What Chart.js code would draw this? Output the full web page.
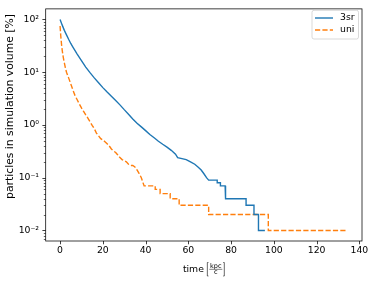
<!DOCTYPE html>
<html><head><meta charset="utf-8">
<script src="https://cdn.jsdelivr.net/npm/chart.js@4"></script>
<style>html,body{margin:0;padding:0;background:#fff;}#wrap{width:374px;height:281px;}</style>
</head><body><div id="wrap"><canvas id="c" width="374" height="281"></canvas></div>
<script>
const seriesNames = ['3sr', 'uni'];
const t3sr = [0,1,2,3,4,5,6,8,10,12,14,16,18,20,22,24,26,28,30,32,34,36,38,40,42,44,46,48,50,52,54,55,57,59,61,63,64.5,66,67.2,68.5,69.5,73.5,73.5,75,75,77.2,77.4,87,87,90.7,90.7,92.8,92.8,95.8];
const p3sr = [100,78,62,51,42,35,30,22,16.5,12.5,9.8,7.8,6.3,5.1,4.2,3.5,2.9,2.4,1.95,1.6,1.3,1.08,0.92,0.78,0.66,0.57,0.49,0.43,0.38,0.33,0.28,0.24,0.23,0.22,0.2,0.18,0.16,0.14,0.12,0.1,0.09,0.09,0.08,0.08,0.07,0.07,0.04,0.04,0.03,0.03,0.02,0.02,0.01,0.01];
const tUni = [0,0.3,0.7,1,1.5,2,2.5,3,4,5,6,7,8,9,10,11,12,13,14,15,16,17,18,19,20,21,22,23,24,25,26,27,28,29,30,31,32,33,34,35,36,37,38,38.8,39.3,44.5,44.5,46.8,46.8,51.5,51.5,55.7,55.7,69.5,69.5,97.4,97.4,134.5];
const pUni = [75,50,33,26,19,15,12,10,7.8,6.0,4.6,3.6,3.0,2.5,2.1,1.8,1.55,1.35,1.15,0.98,0.85,0.7,0.62,0.55,0.52,0.48,0.44,0.4,0.35,0.32,0.3,0.27,0.24,0.22,0.21,0.2,0.18,0.17,0.17,0.16,0.14,0.12,0.1,0.08,0.07,0.07,0.06,0.06,0.05,0.05,0.04,0.04,0.03,0.03,0.02,0.02,0.01,0.01];
const xTickValues = [0,20,40,60,80,100,120,140];
const xTickLabels = ['0','20','40','60','80','100','120','140'];
const yTickValues = [0.01,0.1,1,10,100];
const yTickLabels = ['10\u207B\u00B2','10\u207B\u00B9','10\u2070','10\u00B9','10\u00B2'];
const xLabelText = 'time';
const xUnitNum = 'kpc';
const xUnitDen = 'c';
const yLabelText = 'particles in simulation volume [%]';

const FONT = 'DejaVu Sans';
const FS = 9.3;
const FSY = 10.8;
const TL = 3.3;

function pts(t, p) { return t.map((v, i) => ({x: v, y: p[i]})); }

const overlay = {
  id: 'overlay',
  afterDraw(chart) {
    const {ctx, chartArea: a, scales: {x, y}} = chart;
    ctx.save();
    // ticks
    ctx.strokeStyle = '#000';
    ctx.lineWidth = 0.75;
    ctx.beginPath();
    xTickValues.forEach(v => { const px = Math.round(x.getPixelForValue(v)) + 0.5; ctx.moveTo(px, a.bottom); ctx.lineTo(px, a.bottom + TL); });
    yTickValues.forEach(v => { const py = Math.round(y.getPixelForValue(v)) + 0.5; ctx.moveTo(a.left, py); ctx.lineTo(a.left - TL, py); });
    ctx.stroke();
    ctx.lineWidth = 0.6;
    ctx.beginPath();
    for (let d = 0.001; d <= 1000; d *= 10) {
      for (let m = 2; m <= 9; m++) {
        const v = m * d;
        if (v > y.min && v < y.max) {
          const py = Math.round(y.getPixelForValue(v)) + 0.5;
          ctx.moveTo(a.left, py); ctx.lineTo(a.left - 1.9, py);
        }
      }
    }
    ctx.stroke();
    // frame
    ctx.lineWidth = 0.75;
    ctx.strokeRect(a.left, a.top, a.right - a.left, a.bottom - a.top);
    // legend
    const bx = 312, by = 10.3, bw = 46.5, bh = 28.7, r = 2;
    ctx.beginPath();
    ctx.moveTo(bx + r, by); ctx.lineTo(bx + bw - r, by); ctx.arcTo(bx + bw, by, bx + bw, by + r, r);
    ctx.lineTo(bx + bw, by + bh - r); ctx.arcTo(bx + bw, by + bh, bx + bw - r, by + bh, r);
    ctx.lineTo(bx + r, by + bh); ctx.arcTo(bx, by + bh, bx, by + bh - r, r);
    ctx.lineTo(bx, by + r); ctx.arcTo(bx, by, bx + r, by, r);
    ctx.closePath();
    ctx.fillStyle = 'rgba(255,255,255,0.8)';
    ctx.fill();
    ctx.strokeStyle = '#cccccc';
    ctx.lineWidth = 0.75;
    ctx.stroke();
    ctx.font = FS + 'px "' + FONT + '"';
    ctx.textBaseline = 'middle';
    ctx.textAlign = 'left';
    chart.data.datasets.forEach((ds, i) => {
      const ly = 18 + i * 12;
      ctx.strokeStyle = ds.borderColor;
      ctx.lineWidth = ds.borderWidth;
      ctx.setLineDash(ds.borderDash || []);
      ctx.beginPath(); ctx.moveTo(315, ly); ctx.lineTo(333, ly); ctx.stroke();
      ctx.setLineDash([]);
      ctx.fillStyle = '#000';
      ctx.fillText(ds.label, 340, ly);
    });
    // y title
    ctx.save();
    ctx.translate(10.5, 106.5);
    ctx.rotate(-Math.PI / 2);
    ctx.font = FSY + 'px "' + FONT + '"';
    ctx.textAlign = 'center';
    ctx.textBaseline = 'middle';
    ctx.fillStyle = '#000';
    ctx.fillText(yLabelText, 0, 0);
    ctx.restore();
    // x title
    ctx.fillStyle = '#000';
    ctx.strokeStyle = '#000';
    ctx.textAlign = 'left';
    ctx.textBaseline = 'alphabetic';
    ctx.font = FS + 'px "' + FONT + '"';
    const wTime = ctx.measureText(xLabelText + ' ').width;
    const sf = (FS * 0.7) + 'px "' + FONT + '"';
    ctx.font = sf;
    const wNum = ctx.measureText(xUnitNum).width;
    const wDen = ctx.measureText(xUnitDen).width;
    const wFrac = Math.max(wNum, wDen) + 1.5;
    const total = wTime + 2.5 + wFrac + 2.5;
    const cx = (a.left + a.right) / 2;
    let sx = cx - total / 2;
    const base = 271.5;
    ctx.font = FS + 'px "' + FONT + '"';
    ctx.fillText(xLabelText, sx, base);
    let bxl = sx + wTime;
    ctx.lineWidth = 0.6;
    const bt = 262.5, bb = 276;
    ctx.beginPath();
    ctx.moveTo(bxl + 1.6, bt); ctx.lineTo(bxl + 0.5, bt); ctx.lineTo(bxl + 0.5, bb); ctx.lineTo(bxl + 1.6, bb);
    const fx = bxl + 2.5;
    const brx = fx + wFrac + 2;
    ctx.moveTo(brx - 1.1, bt); ctx.lineTo(brx, bt); ctx.lineTo(brx, bb); ctx.lineTo(brx - 1.1, bb);
    ctx.stroke();
    ctx.beginPath();
    ctx.lineWidth = 0.5;
    ctx.moveTo(fx, 269.3); ctx.lineTo(fx + wFrac, 269.3); ctx.stroke();
    ctx.font = sf;
    ctx.textAlign = 'center';
    ctx.fillText(xUnitNum, fx + wFrac / 2, 267.8);
    ctx.fillText(xUnitDen, fx + wFrac / 2, 274.3);
    ctx.restore();
  }
};

new Chart(document.getElementById('c'), {
  type: 'line',
  data: {
    datasets: [
      {label: seriesNames[0], data: pts(t3sr, p3sr), borderColor: '#1f77b4', borderWidth: 1.4, pointRadius: 0, tension: 0, fill: false},
      {label: seriesNames[1], data: pts(tUni, pUni), borderColor: '#ff7f0e', borderWidth: 1.4, borderDash: [5.2, 2.2], pointRadius: 0, tension: 0, fill: false}
    ]
  },
  options: {
    responsive: false,
    animation: false,
    events: [],
    layout: {padding: {left: 0, top: 5.7, right: 12, bottom: 0}},
    plugins: {legend: {display: false}, tooltip: {enabled: false}},
    scales: {
      x: {
        type: 'linear', min: -6.725, max: 141.225,
        afterBuildTicks: s => { s.ticks = xTickValues.map(v => ({value: v})); },
        afterFit: s => { s.height = 40; },
        grid: {display: true, drawOnChartArea: false, drawTicks: true, tickLength: TL, color: 'rgba(0,0,0,0)'},
        border: {display: false},
        ticks: {color: '#000', font: {family: FONT, size: FS}, padding: 1.2, maxRotation: 0, autoSkip: false,
          callback: (v) => { const i = xTickValues.indexOf(v); return i >= 0 ? xTickLabels[i] : ''; }}
      },
      y: {
        type: 'logarithmic', min: Math.pow(10, -2.2), max: Math.pow(10, 2.2),
        afterBuildTicks: s => { s.ticks = yTickValues.map(v => ({value: v})); },
        afterFit: s => { s.width = 45.7; },
        grid: {display: true, drawOnChartArea: false, drawTicks: true, tickLength: TL, color: 'rgba(0,0,0,0)'},
        border: {display: false},
        ticks: {color: '#000', font: {family: FONT, size: FS}, padding: 3.3, autoSkip: false,
          callback: (v) => { const i = yTickValues.findIndex(t => Math.abs(t - v) / t < 1e-6); return i >= 0 ? yTickLabels[i] : ''; }}
      }
    }
  },
  plugins: [overlay]
});
</script>
</body></html>
